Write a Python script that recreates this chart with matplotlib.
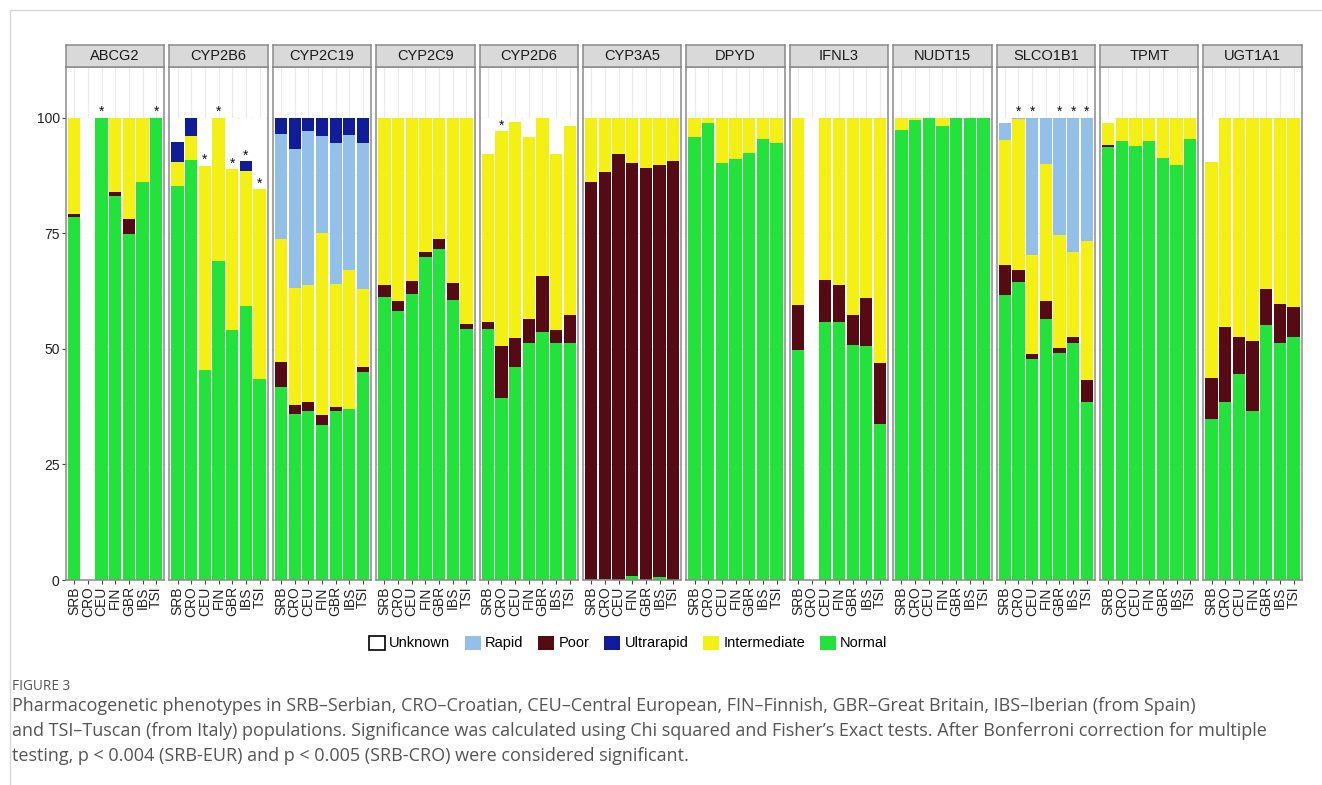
import matplotlib
matplotlib.use("Agg")
import matplotlib.pyplot as plt
from matplotlib.patches import Patch
from matplotlib.lines import Line2D

genes = ["ABCG2", "CYP2B6", "CYP2C19", "CYP2C9", "CYP2D6", "CYP3A5",
         "DPYD", "IFNL3", "NUDT15", "SLCO1B1", "TPMT", "UGT1A1"]
pops = ["SRB", "CRO", "CEU", "FIN", "GBR", "IBS", "TSI"]

# values in % (rows: genes, cols: populations)
normal = [
    [78.5, 0, 100, 83.0, 74.8, 86.0, 100],
    [85.1, 90.8, 45.4, 68.9, 54.1, 59.3, 43.4],
    [41.8, 36.0, 36.6, 33.5, 36.5, 37.0, 45.0],
    [61.2, 58.2, 61.8, 69.9, 71.6, 60.6, 54.3],
    [54.3, 39.4, 46.0, 51.3, 53.6, 51.2, 51.2],
    [0, 0.2, 0, 0.9, 0, 0.7, 0],
    [95.7, 98.8, 90.1, 91.1, 92.4, 95.3, 94.5],
    [49.8, 0, 55.7, 55.7, 50.8, 50.6, 33.8],
    [97.4, 99.4, 100, 98.1, 100, 100, 100],
    [61.6, 64.5, 47.7, 56.5, 49.0, 51.3, 38.5],
    [93.7, 95.0, 93.8, 95.0, 91.3, 89.8, 95.4],
    [34.8, 38.5, 44.6, 36.6, 55.2, 51.2, 52.6],
]
poor = [
    [0.7, 0, 0, 0.9, 3.3, 0, 0],
    [0, 0, 0, 0, 0, 0, 0],
    [5.4, 1.9, 1.9, 2.1, 1.0, 0, 1.0],
    [2.7, 2.1, 2.9, 1.0, 2.2, 3.7, 1.1],
    [1.6, 11.1, 6.3, 5.2, 12.2, 2.8, 6.0],
    [86.0, 88.0, 92.1, 89.2, 89.1, 89.1, 90.7],
    [0, 0, 0, 0, 0, 0, 0],
    [9.7, 0, 9.1, 8.1, 6.5, 10.3, 13.1],
    [0, 0, 0, 0, 0, 0, 0],
    [6.5, 2.6, 1.2, 3.9, 1.2, 1.3, 4.7],
    [0.3, 0, 0, 0, 0, 0, 0],
    [8.8, 16.2, 8.0, 15.1, 7.7, 8.4, 6.5],
]
intermediate = [
    [20.8, 0, 0, 16.1, 21.9, 14.0, 0],
    [5.2, 5.3, 44.2, 31.1, 34.8, 29.2, 41.1],
    [26.5, 25.3, 25.3, 39.4, 26.5, 30.1, 16.9],
    [36.1, 39.7, 35.3, 29.1, 26.2, 35.7, 44.6],
    [36.2, 46.5, 46.8, 39.3, 34.2, 38.2, 40.9],
    [14.0, 11.8, 7.9, 9.9, 10.9, 10.2, 9.3],
    [4.3, 1.2, 9.9, 8.9, 7.6, 4.7, 5.5],
    [40.5, 0, 35.2, 36.2, 42.7, 39.1, 53.1],
    [2.6, 0.6, 0, 1.9, 0, 0, 0],
    [27.1, 32.6, 21.3, 29.5, 24.3, 18.3, 30.1],
    [4.8, 5.0, 6.2, 5.0, 8.7, 10.2, 4.6],
    [46.7, 45.3, 47.4, 48.3, 37.1, 40.4, 40.9],
]
rapid = [
    [0, 0, 0, 0, 0, 0, 0],
    [0, 0, 0, 0, 0, 0, 0],
    [22.8, 30.1, 33.3, 21.0, 30.6, 29.2, 31.6],
    [0, 0, 0, 0, 0, 0, 0],
    [0, 0, 0, 0, 0, 0, 0],
    [0, 0, 0, 0, 0, 0, 0],
    [0, 0, 0, 0, 0, 0, 0],
    [0, 0, 0, 0, 0, 0, 0],
    [0, 0, 0, 0, 0, 0, 0],
    [3.6, 0.3, 29.8, 10.1, 25.5, 29.1, 26.7],
    [0, 0, 0, 0, 0, 0, 0],
    [0, 0, 0, 0, 0, 0, 0],
]
ultrarapid = [
    [0, 0, 0, 0, 0, 0, 0],
    [4.4, 3.9, 0, 0, 0, 2.0, 0],
    [3.5, 6.7, 2.9, 4.0, 5.4, 3.7, 5.5],
    [0, 0, 0, 0, 0, 0, 0],
    [0, 0, 0, 0, 0, 0, 0],
    [0, 0, 0, 0, 0, 0, 0],
    [0, 0, 0, 0, 0, 0, 0],
    [0, 0, 0, 0, 0, 0, 0],
    [0, 0, 0, 0, 0, 0, 0],
    [0, 0, 0, 0, 0, 0, 0],
    [0, 0, 0, 0, 0, 0, 0],
    [0, 0, 0, 0, 0, 0, 0],
]
unknown = [
    [0, 100, 0, 0, 0, 0, 0],
    [5.3, 0, 10.4, 0, 11.1, 9.5, 15.5],
    [0, 0, 0, 0, 0, 0, 0],
    [0, 0, 0, 0, 0, 0, 0],
    [7.9, 3.0, 0.9, 4.2, 0, 7.8, 1.9],
    [0, 0, 0, 0, 0, 0, 0],
    [0, 0, 0, 0, 0, 0, 0],
    [0, 100, 0, 0, 0, 0, 0],
    [0, 0, 0, 0, 0, 0, 0],
    [1.2, 0, 0, 0, 0, 0, 0],
    [1.2, 0, 0, 0, 0, 0, 0],
    [9.7, 0, 0, 0, 0, 0, 0],
]
# significance markers: (gene, population)
significant = [("ABCG2", "CEU"), ("ABCG2", "TSI"),
               ("CYP2B6", "CEU"), ("CYP2B6", "FIN"), ("CYP2B6", "GBR"),
               ("CYP2B6", "IBS"), ("CYP2B6", "TSI"),
               ("CYP2D6", "CRO"),
               ("SLCO1B1", "CRO"), ("SLCO1B1", "CEU"), ("SLCO1B1", "GBR"),
               ("SLCO1B1", "IBS"), ("SLCO1B1", "TSI")]

stack_order = [("Normal", normal, "#24E23C"),
               ("Poor", poor, "#550A14"),
               ("Intermediate", intermediate, "#F5F014"),
               ("Rapid", rapid, "#93C0E8"),
               ("Ultrarapid", ultrarapid, "#111C99"),
               ("Unknown", unknown, "#FFFFFF")]

W, H = 1322, 785
fig = plt.figure(figsize=(W / 100, H / 100), dpi=100)
plt.rcParams["font.family"] = ["Liberation Sans", "DejaVu Sans"]

# outer frame lines
fig.add_artist(Line2D([10 / W, 10 / W], [0, 1 - 10 / H], color="#d8d8d8", lw=1.0))
fig.add_artist(Line2D([10 / W, 1], [1 - 10 / H, 1 - 10 / H], color="#d8d8d8", lw=1.0))

left0 = 66.0
pw = 98.4
gap = 5.0
ptop = 66.7
pbot = 580.0
strip_top = 45.0
border = "#8a8a8a"
x = list(range(len(pops)))

for gi, g in enumerate(genes):
    x0 = left0 + gi * (pw + gap)
    ax = fig.add_axes([x0 / W, (H - pbot) / H, pw / W, (pbot - ptop) / H])
    ax.set_xlim(-0.6, len(pops) - 0.4)
    ax.set_ylim(0, 111)
    ax.set_axisbelow(True)
    ax.set_yticks([0, 25, 50, 75, 100])
    ax.set_yticks([12.5, 37.5, 62.5, 87.5], minor=True)
    ax.set_xticks(x)
    ax.grid(True, which="major", color="#ebebeb", lw=0.8)
    ax.grid(True, which="minor", axis="y", color="#f3f3f3", lw=0.5)
    bottom = [0.0] * len(pops)
    for name, arr, col in stack_order:
        vals = arr[gi]
        ax.bar(x, vals, width=0.9, bottom=bottom, color=col, linewidth=0)
        bottom = [b + v for b, v in zip(bottom, vals)]
    # asterisks
    for (sg, sp) in significant:
        if sg == g:
            pi = pops.index(sp)
            top = (normal[gi][pi] + poor[gi][pi] + intermediate[gi][pi]
                   + rapid[gi][pi] + ultrarapid[gi][pi])
            ax.text(pi, top + 1.2, "*", ha="center", va="center",
                    fontsize=10, color="#111111")
    for s in ax.spines.values():
        s.set_color(border)
        s.set_linewidth(1.1)
    ax.set_xticklabels(pops, rotation=90, fontsize=10, color="#222222")
    ax.tick_params(axis="x", length=3, width=0.8, color="#444444", pad=1.5)
    ax.tick_params(axis="y", which="minor", length=0)
    if gi == 0:
        ax.set_yticklabels(["0", "25", "50", "75", "100"], fontsize=10, color="#222222")
        ax.tick_params(axis="y", length=3, width=0.8, color="#444444", pad=1.5)
    else:
        ax.tick_params(axis="y", length=0, labelleft=False)
    # strip
    sax = fig.add_axes([x0 / W, (H - ptop) / H, pw / W, (ptop - strip_top) / H])
    sax.set_facecolor("#d9d9d9")
    sax.set_xticks([])
    sax.set_yticks([])
    for s in sax.spines.values():
        s.set_color(border)
        s.set_linewidth(1.1)
    sax.text(0.5, 0.48, g, ha="center", va="center", fontsize=10.5,
             color="#1a1a1a", transform=sax.transAxes)

# legend
legend_order = [("Unknown", "#FFFFFF"), ("Rapid", "#93C0E8"), ("Poor", "#550A14"),
                ("Ultrarapid", "#111C99"), ("Intermediate", "#F5F014"),
                ("Normal", "#24E23C")]
handles = []
for name, col in legend_order:
    if name == "Unknown":
        handles.append(Patch(facecolor=col, edgecolor="black", linewidth=1.2, label=name))
    else:
        handles.append(Patch(facecolor=col, edgecolor="none", label=name))
fig.legend(handles=handles, loc="center", bbox_to_anchor=(628 / W, 1 - 643 / H),
           ncol=6, frameon=False, fontsize=10.5, handlelength=1.1, handleheight=1.1,
           handletextpad=0.3, columnspacing=1.0, borderaxespad=0)

# caption
cap_col = "#555555"
fig.text(12 / W, 1 - 687 / H, "FIGURE 3", fontsize=9.8, color=cap_col,
         family=["Open Sans", "DejaVu Sans"], va="center", ha="left")
lines = [
    "Pharmacogenetic phenotypes in SRB\u2013Serbian, CRO\u2013Croatian, CEU\u2013Central European, FIN\u2013Finnish, GBR\u2013Great Britain, IBS\u2013Iberian (from Spain)",
    "and TSI\u2013Tuscan (from Italy) populations. Significance was calculated using Chi squared and Fisher\u2019s Exact tests. After Bonferroni correction for multiple",
    "testing, p < 0.004 (SRB-EUR) and p < 0.005 (SRB-CRO) were considered significant.",
]
for i, t in enumerate(lines):
    fig.text(12 / W, 1 - (706 + i * 25) / H, t, fontsize=13.0, color=cap_col,
             family=["Open Sans", "DejaVu Sans"], va="center", ha="left")

fig.savefig("out.png", dpi=100)
